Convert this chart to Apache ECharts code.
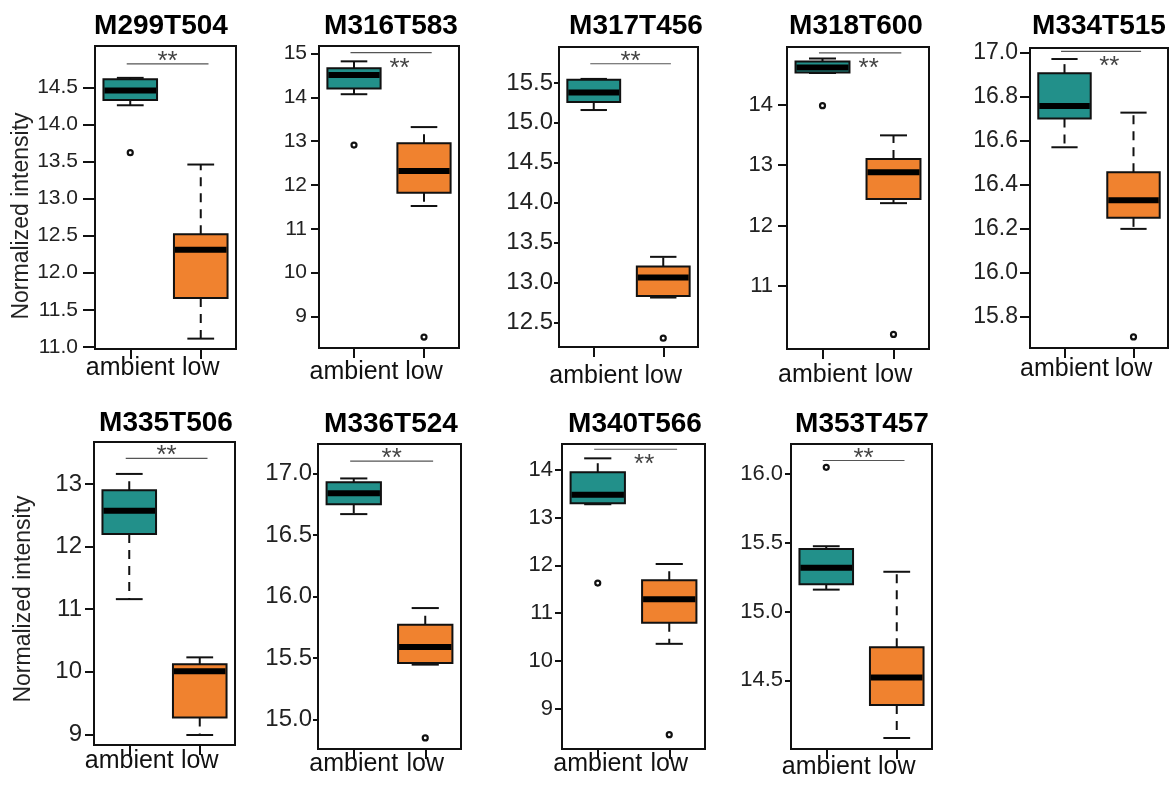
<!DOCTYPE html>
<html><head><meta charset="utf-8">
<script src="https://cdn.jsdelivr.net/npm/echarts@6/dist/echarts.min.js"></script>
<style>html,body{margin:0;padding:0;background:#fff}#c{width:1173px;height:789px}</style>
</head><body><div id="c"></div>
<script>
// ---------------- data ----------------
const categories = ['ambient', 'low'];
const titles = ['M299T504','M316T583','M317T456','M318T600','M334T515','M335T506','M336T524','M340T566','M353T457'];
// [min, Q1, median, Q3, max]
const ambientStats = [
  [14.26, 14.33, 14.46, 14.61, 14.63],
  [14.07, 14.20, 14.51, 14.66, 14.82],
  [15.16, 15.26, 15.38, 15.54, 15.55],
  [14.52, 14.53, 14.61, 14.71, 14.76],
  [16.57, 16.70, 16.757, 16.906, 16.97],
  [11.16, 12.20, 12.57, 12.90, 13.16],
  [16.67, 16.75, 16.84, 16.93, 16.96],
  [13.28, 13.30, 13.48, 13.95, 14.24],
  [15.16, 15.20, 15.32, 15.455, 15.476]
];
const lowStats = [
  [11.11, 11.66, 12.31, 12.52, 13.46],
  [11.52, 11.82, 12.32, 12.95, 13.32],
  [12.81, 12.83, 13.06, 13.20, 13.32],
  [12.37, 12.44, 12.88, 13.10, 13.49],
  [16.20, 16.25, 16.33, 16.457, 16.727],
  [8.99, 9.27, 10.01, 10.12, 10.23],
  [15.446, 15.46, 15.59, 15.77, 15.906],
  [10.36, 10.80, 11.29, 11.69, 12.03],
  [14.08, 14.32, 14.52, 14.74, 15.29]
];
const ambientOutliers = [[13.62], [12.91], [], [13.98], [], [], [], [11.63], [16.05]];
const lowOutliers = [[], [8.53], [12.30], [10.20], [15.71], [], [14.85], [8.46], []];
const yMin = [10.97, 8.28, 12.19, 9.96, 15.66, 8.83, 14.76, 8.16, 14.0];
const yMax = [15.06, 15.17, 15.95, 14.95, 17.02, 13.67, 17.24, 14.54, 16.22];
const yTicks = [
  [11.0, 11.5, 12.0, 12.5, 13.0, 13.5, 14.0, 14.5],
  [9, 10, 11, 12, 13, 14, 15],
  [12.5, 13.0, 13.5, 14.0, 14.5, 15.0, 15.5],
  [11, 12, 13, 14],
  [15.8, 16.0, 16.2, 16.4, 16.6, 16.8, 17.0],
  [9, 10, 11, 12, 13],
  [15.0, 15.5, 16.0, 16.5, 17.0],
  [9, 10, 11, 12, 13, 14],
  [14.5, 15.0, 15.5, 16.0]
];
const tickDecimals = [1, 0, 1, 0, 1, 0, 1, 0, 1];
const sigY = [14.82, 15.02, 15.74, 14.853, 17.005, 13.41, 17.1, 14.43, 16.1];
const starsBelow = [0, 1, 0, 1, 1, 0, 0, 1, 0];
const sigLabel = '**';
const yName = 'Normalized intensity';

// ---------------- layout / style ----------------
const FONT = '"Liberation Sans", Arial, Helvetica, sans-serif';
const TEAL = '#22908a', ORANGE = '#f0822f', INK = '#111';
const grids = [
  [95, 46, 141, 303], [319, 46, 140, 302], [559, 47, 139, 300], [787, 47, 142, 302], [1030, 48, 138, 300],
  [94, 442, 141, 303], [318, 444, 143, 305], [562, 444, 143, 305], [791, 444, 141, 305]
];
const titlePos = [[161, 26], [391, 26], [636, 26], [856, 26], [1099, 26], [166, 423], [391, 424], [635, 424], [862, 424]];
const yLabelSize = [21, 21, 24, 22, 23, 24, 24, 22, 22];
const yTickLen = [12, 8, 5, 9, 10, 9, 5, 7, 6];
const yLabelMargin = [17, 12, 6, 14, 12, 12, 6, 9, 8];
const xLabelMargin = [7, 12, 17, 14, 9, 4, 3, 3, 6];
const yNamePos = [[22, 216], [24, 599]];

function boxRender(params, api) {
  const x = api.value(0);
  const p = [1, 2, 3, 4, 5].map(k => api.coord([x, api.value(k)]));
  const cx = p[0][0];
  const band = api.size([1, 0])[0];
  const bw = band * 0.76, sw = bw * 0.5;
  const yMn = p[0][1], yQ1 = p[1][1], yMd = p[2][1], yQ3 = p[3][1], yMx = p[4][1];
  const fill = x === 0 ? TEAL : ORANGE;
  return {
    type: 'group', children: [
      { type: 'line', shape: { x1: cx, y1: yQ3, x2: cx, y2: yMx }, style: { stroke: INK, lineWidth: 2, lineDash: [9, 7] } },
      { type: 'line', shape: { x1: cx, y1: yQ1, x2: cx, y2: yMn }, style: { stroke: INK, lineWidth: 2, lineDash: [9, 7] } },
      { type: 'line', shape: { x1: cx - sw / 2, y1: yMx, x2: cx + sw / 2, y2: yMx }, style: { stroke: INK, lineWidth: 2 } },
      { type: 'line', shape: { x1: cx - sw / 2, y1: yMn, x2: cx + sw / 2, y2: yMn }, style: { stroke: INK, lineWidth: 2 } },
      { type: 'rect', shape: { x: cx - bw / 2, y: yQ3, width: bw, height: yQ1 - yQ3 }, style: { fill: fill, stroke: INK, lineWidth: 2 } },
      { type: 'line', shape: { x1: cx - bw / 2 + 1, y1: yMd, x2: cx + bw / 2 - 1, y2: yMd }, style: { stroke: '#000', lineWidth: 6 } }
    ]
  };
}

function sigRender(params, api) {
  const y = api.value(1);
  const below = api.value(2) === 1;
  const a = api.coord([0, y]), b = api.coord([1, y]);
  const d = b[0] - a[0];
  const x1 = a[0] - 0.05 * d, x2 = b[0] + 0.11 * d;
  const sx = below ? a[0] + 0.65 * d : (x1 + x2) / 2;
  const sy = below ? a[1] + 10 : a[1] - 8;
  return {
    type: 'group', children: [
      { type: 'line', shape: { x1: x1, y1: a[1], x2: x2, y2: a[1] }, style: { stroke: '#555', lineWidth: 1.2 } },
      { type: 'text', x: sx, y: sy + 6, style: { text: sigLabel, align: 'center', verticalAlign: 'middle', fontSize: 26, fontFamily: FONT, fill: '#444' } }
    ]
  };
}

const option = { animation: false, backgroundColor: '#fff', grid: [], xAxis: [], yAxis: [], series: [], graphic: [] };

for (let i = 0; i < titles.length; i++) {
  const g = grids[i];
  option.grid.push({ left: g[0], top: g[1], width: g[2], height: g[3], show: true, borderColor: INK, borderWidth: 2, backgroundColor: 'transparent', containLabel: false, outerBoundsMode: 'none' });
  option.xAxis.push({
    type: 'category', gridIndex: i, data: categories, boundaryGap: true,
    axisLine: { show: false }, splitLine: { show: false },
    axisTick: { show: true, alignWithLabel: true, length: 10, lineStyle: { color: INK, width: 2 } },
    axisLabel: { interval: 0, fontSize: 25, color: '#111', fontFamily: FONT, margin: xLabelMargin[i] }
  });
  option.yAxis.push({
    type: 'value', gridIndex: i, min: yMin[i], max: yMax[i], scale: true,
    axisLine: { show: false }, splitLine: { show: false },
    axisTick: { show: true, length: yTickLen[i], customValues: yTicks[i], lineStyle: { color: INK, width: 2 } },
    axisLabel: { customValues: yTicks[i], formatter: (v) => Number(v).toFixed(tickDecimals[i]), fontSize: yLabelSize[i], color: '#222', fontFamily: FONT, margin: yLabelMargin[i] }
  });
  option.series.push({
    type: 'custom', xAxisIndex: i, yAxisIndex: i, z: 3,
    renderItem: boxRender, encode: { x: 0, y: [1, 2, 3, 4, 5] },
    data: [[0].concat(ambientStats[i]), [1].concat(lowStats[i])]
  });
  option.series.push({
    type: 'scatter', xAxisIndex: i, yAxisIndex: i, z: 4, symbol: 'circle', symbolSize: 5,
    itemStyle: { color: '#fff', borderColor: INK, borderWidth: 2.2, opacity: 1 },
    data: ambientOutliers[i].map(v => [0, v]).concat(lowOutliers[i].map(v => [1, v]))
  });
  option.series.push({
    type: 'custom', xAxisIndex: i, yAxisIndex: i, z: 4,
    renderItem: sigRender, encode: { x: 0, y: 1 },
    data: [[0, sigY[i], starsBelow[i]]]
  });
  option.graphic.push({
    type: 'text', x: titlePos[i][0], y: titlePos[i][1],
    style: { text: titles[i], align: 'center', verticalAlign: 'middle', textAlign: 'center', textVerticalAlign: 'middle', fontSize: 28, fontWeight: 'bold', fontFamily: FONT, fill: '#000' }
  });
}
yNamePos.forEach(p => {
  option.graphic.push({
    type: 'text', x: p[0], y: p[1], rotation: Math.PI / 2,
    style: { text: yName, align: 'center', verticalAlign: 'middle', textAlign: 'center', textVerticalAlign: 'middle', fontSize: 23, fontFamily: FONT, fill: '#222' }
  });
});

const chart = echarts.init(document.getElementById('c'), null, { renderer: 'canvas' });
chart.setOption(option);
</script>
</body></html>
